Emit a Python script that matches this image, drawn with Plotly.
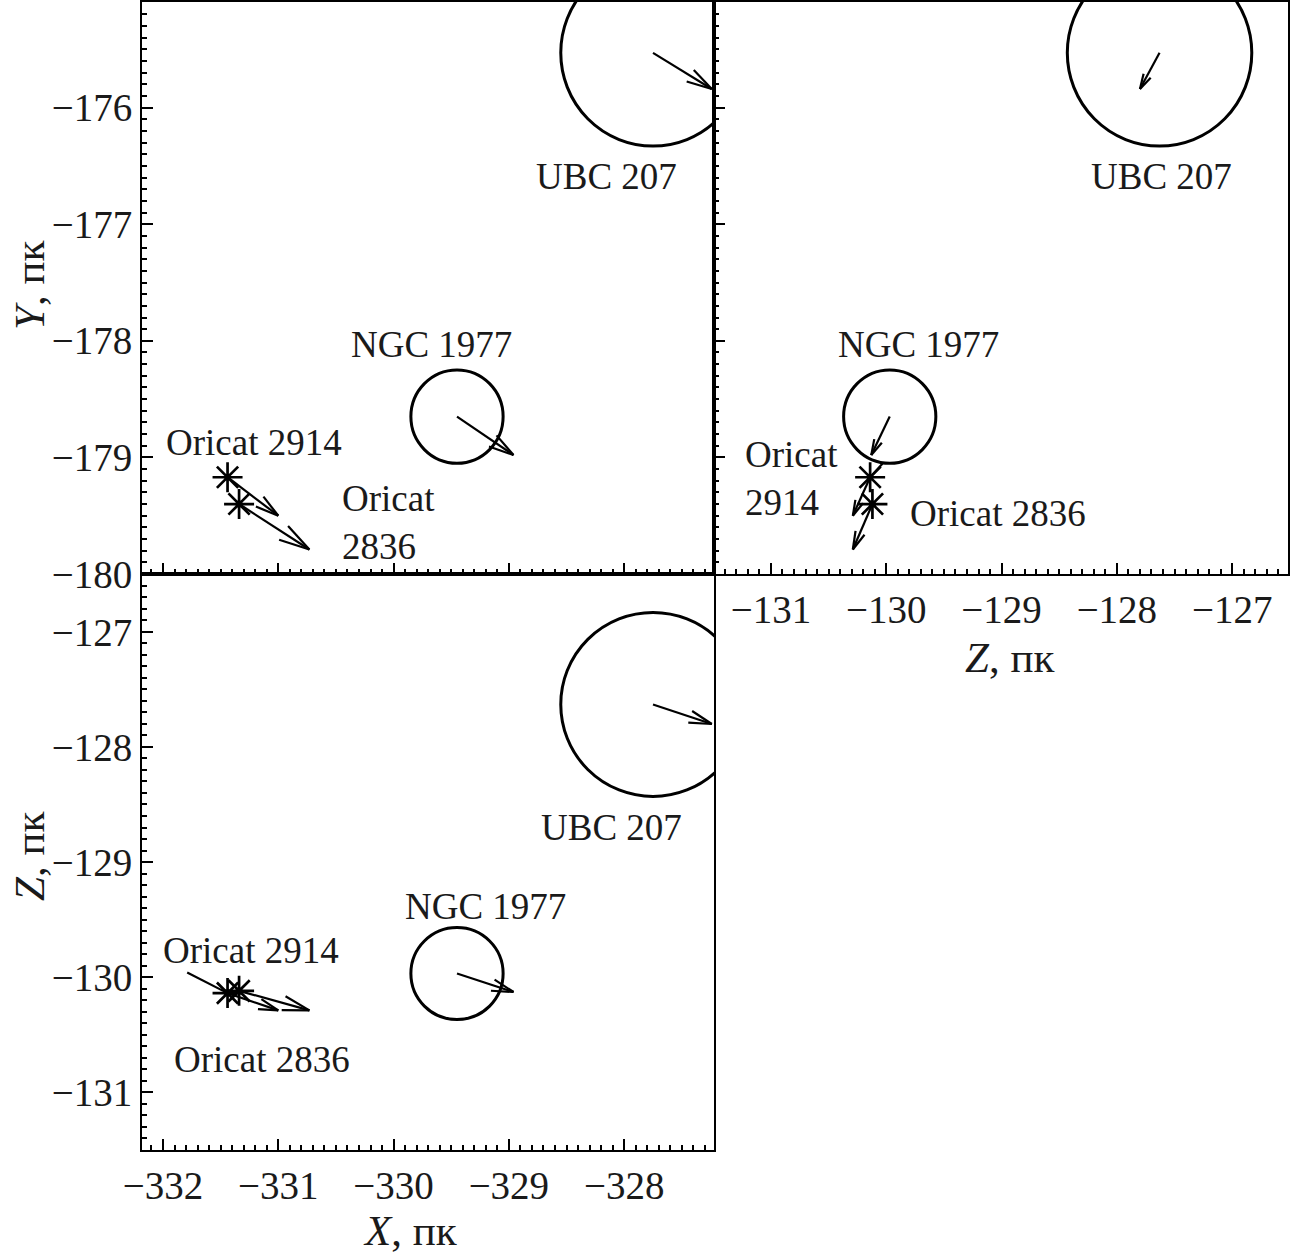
import math
import plotly.graph_objects as go

# ---------------- data ----------------
cluster_names = ["UBC 207", "NGC 1977"]
cl_X = [-327.75, -329.45]
cl_Y = [-175.53, -178.65]
cl_Z = [-127.63, -129.97]
cl_R = [0.8, 0.4]
cl_endX = [-327.24, -328.96]
cl_endY = [-175.84, -178.98]
cl_endZ = [-127.80, -130.13]

star_names = ["Oricat 2914", "Oricat 2836"]
st_X = [-331.44, -331.34]
st_Y = [-179.17, -179.40]
st_Z = [-130.14, -130.12]
st_endX = [-331.00, -330.73]
st_endY = [-179.50, -179.79]
st_endZ = [-130.29, -130.29]

# extra short segments seen near Oricat 2914
seg_ZY = [(-130.03, -179.05), (-130.14, -179.17)]
seg_XZ = [(-331.79, -129.96), (-331.44, -130.14)]

# label positions (text)
lab_XY = [("UBC 207", -328.15, -176.59, "center"), ("NGC 1977", -329.67, -178.03, "center"),
          ("Oricat 2914", -331.21, -178.87, "center"), ("Oricat<br>2836", -330.465, -179.56, "left")]
lab_ZY = [("UBC 207", -127.61, -176.59, "center"), ("NGC 1977", -129.72, -178.03, "center"),
          ("Oricat<br>2914", -131.24, -179.18, "left"), ("Oricat 2836", -129.03, -179.48, "center")]
lab_XZ = [("UBC 207", -328.11, -128.70, "center"), ("NGC 1977", -329.20, -129.39, "center"),
          ("Oricat 2914", -331.24, -129.77, "center"), ("Oricat 2836", -331.14, -130.72, "center")]

# ---------------- layout ----------------
W, H = 1290, 1258
xr_X = [-332.182, -327.221]
yr_Y = [-180.0, -175.094]
xr_Z = [-131.494, -126.516]
yr_Z = [-131.504, -126.496]
dom_left = [142 / W, 714 / W]
dom_right = [714 / W, 1288 / W]
dom_top = [1 - 574 / H, 1 - 2 / H]
dom_bot = [1 - 1150 / H, 1 - 574 / H]

FONT = "Liberation Serif"
TICKSIZE = 39
LABSIZE = 37
TITLESIZE = 43


def scale(dom, rng, total):
    return (dom[1] - dom[0]) * total / (rng[1] - rng[0])


def arrows(x0s, y0s, x1s, y1s, sx, sy):
    xs, ys = [], []
    for a, b, c, d in zip(x0s, y0s, x1s, y1s):
        dx, dy = (c - a) * sx, (d - b) * sy
        L = math.hypot(dx, dy)
        ux, uy = -dx / L, -dy / L
        head = 0.38 * L
        xs += [a, c, None]
        ys += [b, d, None]
        for ang in (math.radians(15), -math.radians(15)):
            rx = ux * math.cos(ang) - uy * math.sin(ang)
            ry = ux * math.sin(ang) + uy * math.cos(ang)
            xs += [c + rx * head / sx, c, None]
            ys += [d + ry * head / sy, d, None]
    return xs, ys


fig = go.Figure()
shapes = []
annotations = []

panels = [
    dict(h=cl_X, v=cl_Y, he=cl_endX, ve=cl_endY, sh=st_X, sv=st_Y, she=st_endX, sve=st_endY,
         xa="x", ya="y", labs=lab_XY, xr=xr_X, yr=yr_Y, xd=dom_left, yd=dom_top, seg=None),
    dict(h=cl_Z, v=cl_Y, he=cl_endZ, ve=cl_endY, sh=st_Z, sv=st_Y, she=st_endZ, sve=st_endY,
         xa="x2", ya="y2", labs=lab_ZY, xr=xr_Z, yr=yr_Y, xd=dom_right, yd=dom_top, seg=seg_ZY),
    dict(h=cl_X, v=cl_Z, he=cl_endX, ve=cl_endZ, sh=st_X, sv=st_Z, she=st_endX, sve=st_endZ,
         xa="x3", ya="y3", labs=lab_XZ, xr=xr_X, yr=yr_Z, xd=dom_left, yd=dom_bot, seg=seg_XZ),
]

for p in panels:
    sx = scale(p["xd"], p["xr"], W)
    sy = scale(p["yd"], p["yr"], H)
    for cx, cy, r in zip(p["h"], p["v"], cl_R):
        shapes.append(dict(type="circle", xref=p["xa"], yref=p["ya"],
                           x0=cx - r, x1=cx + r, y0=cy - r, y1=cy + r,
                           line=dict(color="black", width=3)))
    ax, ay = arrows(p["h"] + p["sh"], p["v"] + p["sv"], p["he"] + p["she"], p["ve"] + p["sve"], sx, sy)
    fig.add_trace(go.Scatter(x=ax, y=ay, mode="lines", line=dict(color="black", width=2.2),
                             xaxis=p["xa"], yaxis=p["ya"], showlegend=False, hoverinfo="skip"))
    if p["seg"]:
        fig.add_trace(go.Scatter(x=[q[0] for q in p["seg"]], y=[q[1] for q in p["seg"]], mode="lines",
                                 line=dict(color="black", width=2.2),
                                 xaxis=p["xa"], yaxis=p["ya"], showlegend=False, hoverinfo="skip"))
    fig.add_trace(go.Scatter(x=p["sh"], y=p["sv"], mode="markers",
                             marker=dict(symbol="asterisk-open", size=25, color="black",
                                         line=dict(color="black", width=2.7)),
                             xaxis=p["xa"], yaxis=p["ya"], showlegend=False, hoverinfo="skip"))
    for text, lx, ly, al in p["labs"]:
        annotations.append(dict(text=text, x=lx, y=ly, xref=p["xa"], yref=p["ya"], showarrow=False,
                                xanchor=al, align="left", font=dict(family=FONT, size=LABSIZE, color="#1a1a1a")))

# axis titles
titles = [("<i>Y</i>, пк", 29, 286, -90), ("<i>Z</i>, пк", 29, 857, -90),
          ("<i>X</i>, пк", 410, 1230, 0), ("<i>Z</i>, пк", 1009, 657, 0)]
for t, px, py, ang in titles:
    annotations.append(dict(text=t, x=px / W, y=1 - py / H, xref="paper", yref="paper", showarrow=False,
                            textangle=ang, xanchor="center", yanchor="middle",
                            font=dict(family=FONT, size=TITLESIZE, color="#1a1a1a")))


def axis(rng, dom, anchor, labels):
    return dict(range=rng, domain=dom, anchor=anchor, showgrid=False, zeroline=False,
                automargin=False,
                showline=True, linecolor="black", linewidth=2, mirror=True,
                ticks="inside", ticklen=11, tickwidth=2, tickcolor="black",
                dtick=1, tick0=0, showticklabels=labels,
                tickfont=dict(family=FONT, size=TICKSIZE, color="#1a1a1a"),
                minor=dict(dtick=0.1, ticks="inside", ticklen=5, tickwidth=1.5, tickcolor="black"))


fig.update_layout(
    width=W, height=H, margin=dict(l=0, r=0, t=0, b=0),
    paper_bgcolor="white", plot_bgcolor="white",
    xaxis=axis(xr_X, dom_left, "y", False),
    yaxis=axis(yr_Y, dom_top, "x", True),
    xaxis2=axis(xr_Z, dom_right, "y2", True),
    yaxis2=axis(yr_Y, dom_top, "x2", False),
    xaxis3=axis(xr_X, dom_left, "y3", True),
    yaxis3=axis(yr_Z, dom_bot, "x3", True),
    shapes=shapes, annotations=annotations,
)

fig.write_html("out.html", config={"displayModeBar": False},
               post_script="document.body.style.margin='0';")
